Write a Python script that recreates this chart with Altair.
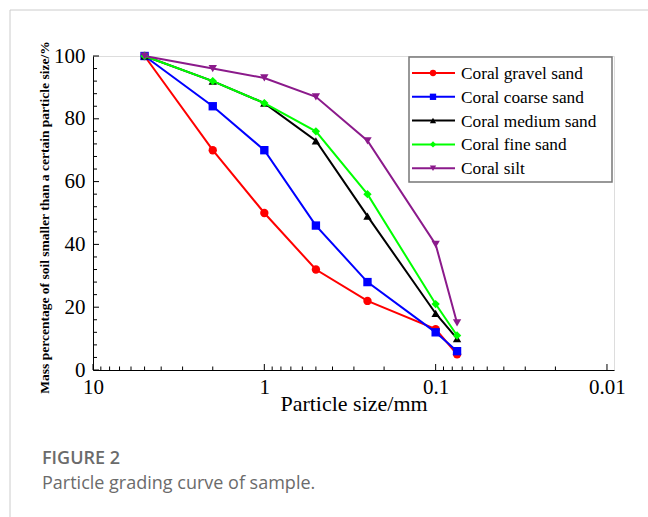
import altair as alt
import pandas as pd

# ---- data ----
sizes = [5, 2, 1, 0.5, 0.25, 0.1, 0.075]
series_names = ["Coral gravel sand", "Coral coarse sand", "Coral medium sand",
                "Coral fine sand", "Coral silt"]
gravel = [100, 70, 50, 32, 22, 13, 5]
coarse = [100, 84, 70, 46, 28, 12, 6]
medium = [100, 92, 85, 73, 49, 18, 10]
fine = [100, 92, 85, 76, 56, 21, 11]
silt = [100, 96, 93, 87, 73, 40, 15]
series_values = [gravel, coarse, medium, fine, silt]
colors = ["#ff0000", "#0000ff", "#000000", "#00ff00", "#8b1a8b"]
shapes = ["circle", "square", "triangle-up", "diamond", "triangle-down"]

x_major = [10, 1, 0.1, 0.01]
x_minor = [m * d for d in [1, 0.1, 0.01] for m in range(2, 10)]
y_major = [0, 20, 40, 60, 80, 100]
y_minor = [v for v in range(0, 101, 4) if v % 20 != 0]

W, H = 521, 314
FONT = "Liberation Serif"

rows = []
for name, vals in zip(series_names, series_values):
    for s, v in zip(sizes, vals):
        rows.append({"series": name, "size": s, "pct": v})
df = pd.DataFrame(rows)

xscale = alt.Scale(type="log", domain=[0.0091, 10], reverse=True, nice=False)
yscale = alt.Scale(domain=[0, 100], nice=False, zero=False)

x_axis = alt.Axis(values=x_major, format="~g", tickSize=0, grid=False,
                  labelFont=FONT, labelFontSize=21, labelColor="black",
                  labelPadding=6, labelFlush=False, domainColor="black",
                  title="Particle size/mm", titleFont=FONT, titleFontSize=22,
                  titleFontWeight="normal", titleColor="black",
                  titleY=40, titleBaseline="alphabetic")
y_axis = alt.Axis(values=y_major, tickSize=0, grid=False,
                  labelFont=FONT, labelFontSize=21, labelColor="black",
                  labelPadding=8, domainColor="black",
                  title="Mass percentage of soil smaller than a certain particle size/%",
                  titleFont=FONT, titleFontSize=13.5, titleFontWeight="bold",
                  titleColor="black", titleX=-49, titleY=H / 2 + 4,
                  titleAngle=270, titleAlign="center", titleBaseline="middle")

base = alt.Chart(df)

layers = []
# axes carrier (invisible)
layers.append(
    base.mark_point(opacity=0).encode(
        x=alt.X("size:Q", scale=xscale, axis=x_axis),
        y=alt.Y("pct:Q", scale=yscale, axis=y_axis),
    )
)

# inward ticks
for vals, ln in [(x_major, 6), (x_minor, 3.5)]:
    layers.append(
        alt.Chart(pd.DataFrame({"v": vals})).mark_rule(color="black", strokeWidth=1).encode(
            x=alt.X("v:Q", scale=xscale),
            y=alt.value(H), y2=alt.value(H - ln),
        )
    )
for vals, ln in [(y_major, 6), (y_minor, 4)]:
    layers.append(
        alt.Chart(pd.DataFrame({"v": vals})).mark_rule(color="black", strokeWidth=1).encode(
            y=alt.Y("v:Q", scale=yscale),
            x=alt.value(0), x2=alt.value(ln),
        )
    )

# series
for name, col, shp in zip(series_names, colors, shapes):
    sub = base.transform_filter(alt.datum.series == name)
    layers.append(sub.mark_line(color=col, strokeWidth=2).encode(
        x=alt.X("size:Q", scale=xscale), y=alt.Y("pct:Q", scale=yscale)))
    layers.append(sub.mark_point(color=col, filled=True, opacity=1, shape=shp,
                                 size=70).encode(
        x=alt.X("size:Q", scale=xscale), y=alt.Y("pct:Q", scale=yscale)))

# legend box
leg_x0, leg_y0, leg_x1, leg_y1 = 316, 1, 519, 126
layers.append(alt.Chart(pd.DataFrame({"a": [0]})).mark_rect(
    fill="white", stroke="#777777", strokeWidth=1.5).encode(
    x=alt.value(leg_x0), x2=alt.value(leg_x1), y=alt.value(leg_y0), y2=alt.value(leg_y1)))
for i, (name, col, shp) in enumerate(zip(series_names, colors, shapes)):
    yy = 17 + i * 23.8
    one = alt.Chart(pd.DataFrame({"series": [name]}))
    layers.append(one.mark_rule(color=col, strokeWidth=2).encode(
        x=alt.value(319), x2=alt.value(362), y=alt.value(yy)))
    layers.append(one.mark_point(color=col, filled=True, opacity=1, shape=shp, size=40).encode(
        x=alt.value(340), y=alt.value(yy)))
    layers.append(one.mark_text(font=FONT, fontSize=17.3, align="left", baseline="middle",
                                color="black").encode(
        x=alt.value(368), y=alt.value(yy + 1), text="series:N"))

# page frame and caption
layers.append(alt.Chart(pd.DataFrame({"a": [0]})).mark_rule(color="#cccccc", strokeWidth=1).encode(
    x=alt.value(-83), y=alt.value(-46), y2=alt.value(H + 147)))
layers.append(alt.Chart(pd.DataFrame({"a": [0]})).mark_rule(color="#cccccc", strokeWidth=1).encode(
    x=alt.value(-83), x2=alt.value(W + 34), y=alt.value(-46)))
cap = pd.DataFrame({"t": ["FIGURE 2"]})
layers.append(alt.Chart(cap).mark_text(font="Open Sans", fontSize=18, fontWeight=600,
                                       color="#6b6b6b", align="left", baseline="middle").encode(
    x=alt.value(-51), y=alt.value(459 - 56), text="t:N"))
cap2 = pd.DataFrame({"t": ["Particle grading curve of sample."]})
layers.append(alt.Chart(cap2).mark_text(font="Open Sans", fontSize=18,
                                        color="#6b6b6b", align="left", baseline="middle").encode(
    x=alt.value(-51), y=alt.value(484 - 56), text="t:N"))

chart = alt.layer(*layers).properties(
    width=W, height=H,
    autosize=alt.AutoSizeParams(type="none"),
    padding={"left": 93, "top": 56, "right": 34, "bottom": 147},
).configure_view(stroke="black", strokeWidth=1).configure(background="white")

chart.save("out.html", embed_options={"renderer": "svg", "actions": False})
